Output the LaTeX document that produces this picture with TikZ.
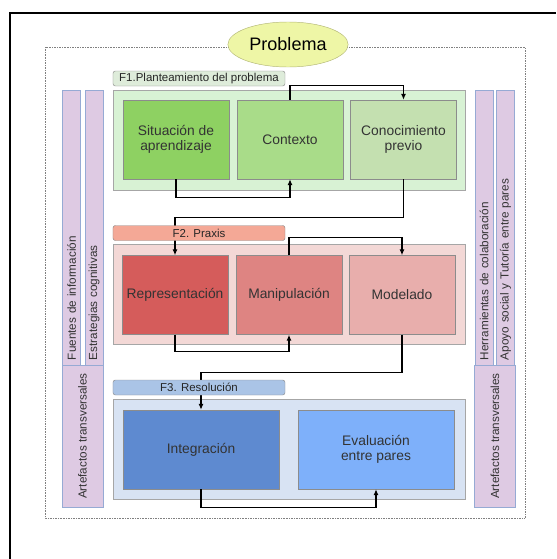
\documentclass[tikz,border=0pt]{standalone}
\usepackage{fontspec}
\setmainfont{Liberation Sans}
\usetikzlibrary{shapes.geometric,arrows.meta}

\definecolor{probfill}{RGB}{238,246,166}
\definecolor{probline}{RGB}{180,184,120}
\definecolor{barfill}{RGB}{222,202,227}
\definecolor{barline}{RGB}{150,170,212}
\definecolor{fonepanel}{RGB}{216,242,212}
\definecolor{fonetag}{RGB}{222,236,218}
\definecolor{ftwopanel}{RGB}{243,216,214}
\definecolor{ftwotag}{RGB}{244,168,150}
\definecolor{fthreepanel}{RGB}{216,227,243}
\definecolor{fthreetag}{RGB}{170,196,230}
\definecolor{sitfill}{RGB}{142,209,98}
\definecolor{ctxfill}{RGB}{169,220,137}
\definecolor{confill}{RGB}{196,224,176}
\definecolor{repfill}{RGB}{213,92,91}
\definecolor{manfill}{RGB}{222,132,130}
\definecolor{modfill}{RGB}{232,174,172}
\definecolor{intfill}{RGB}{94,138,208}
\definecolor{evafill}{RGB}{126,176,250}

\begin{document}
\begin{tikzpicture}[x=0.03cm,y=-0.03cm,
  box/.style={draw=black!45,text=black!80,minimum width=3.18cm,minimum height=2.37cm,
    align=center,font=\fontsize{11.8}{12.4}\selectfont},
  widebox/.style={box,minimum width=4.68cm},
  panel/.style={draw=black!35,minimum width=10.56cm,minimum height=3cm},
  phase/.style={draw=black!45,rounded corners=2pt,minimum width=5.16cm,minimum height=0.45cm,
    inner sep=0pt,text=black!85,font=\fontsize{9.8}{10}\selectfont},
  sidebar/.style={draw=barline,fill=barfill,rotate=90,inner xsep=0.15cm,inner ysep=0pt,
    minimum height=0.55cm,text width=7.95cm,align=left,text=black!80,font=\fontsize{10}{11}\selectfont},
  artbar/.style={draw=barline,fill=barfill,rotate=90,minimum width=4.26cm,minimum height=1.22cm,
    text=black!80,font=\fontsize{10}{11}\selectfont},
  link/.style={line width=0.9pt,-{Latex[length=1.8mm,width=1.5mm]}}]

  \useasboundingbox (0,0) rectangle (556,559);
  \draw[line width=1.5pt] (10,559) |- (556,13);
  \draw[densely dotted,black!50] (45,47) rectangle (525,518);
  \node[ellipse,draw=probline,fill=probfill,minimum width=3.6cm,minimum height=1.35cm,
    font=\fontsize{15.4}{16}\selectfont] (prob) at (288,44.5) {Problema};

  \node[sidebar] (fuentes) at (71.5,227.5) {Fuentes de información};
  \node[sidebar] (estrat) at (94,227.5) {Estrategias cognitivas};
  \node[artbar] (artleft) at (82.5,436) {Artefactos transversales};
  \node[sidebar] (herram) at (484,227.5) {Herramientas de colaboración};
  \node[sidebar] (apoyo) at (505.5,227.5) {Apoyo social y Tutoría entre pares};
  \node[artbar] (artright) at (495,436) {Artefactos transversales};

  \node[panel,fill=fonepanel] (pone) at (289,140) {};
  \node[panel,fill=ftwopanel] (ptwo) at (289,294) {};
  \node[panel,fill=fthreepanel] (pthree) at (289,449) {};

  \node[box,fill=sitfill] (sit) at (176,139.5) {Situación de\\aprendizaje};
  \node[box,fill=ctxfill] (ctx) at (290,139.5) {Contexto};
  \node[box,fill=confill] (con) at (403.5,139.5) {Conocimiento\\previo};
  \node[box,fill=repfill] (rep) at (175,295) {Representación};
  \node[box,fill=manfill] (man) at (289,295) {Manipulación};
  \node[box,fill=modfill] (mdl) at (402,295) {Modelado};
  \node[widebox,fill=intfill] (integ) at (201,449.5) {Integración};
  \node[widebox,fill=evafill] (eva) at (376,449.5) {Evaluación\\entre pares};

  \draw[link] (ctx.north) -- ++(0,-14) -| (con.north);
  \draw[link] (sit.south) -- ++(0,18) -| (ctx.south);
  \draw[link] (con.south) -- ++(0,38) -| (rep.north);
  \draw[link] (man.north) -- ++(0,-18) -| (mdl.north);
  \draw[link] (rep.south) -- ++(0,17) -| (man.south);
  \draw[link] (mdl.south) -- ++(0,38) -| (integ.north);
  \draw[link] (integ.south) -- ++(0,18) -| (eva.south);

  \node[phase,fill=fonetag] (fone) at (199,78.5) {F1.Planteamiento del problema};
  \node[phase,fill=ftwotag] (ftwo) at (199,233) {F2. Praxis};
  \node[phase,fill=fthreetag] (fthree) at (199,387.5) {F3. Resolución};
\end{tikzpicture}
\end{document}
